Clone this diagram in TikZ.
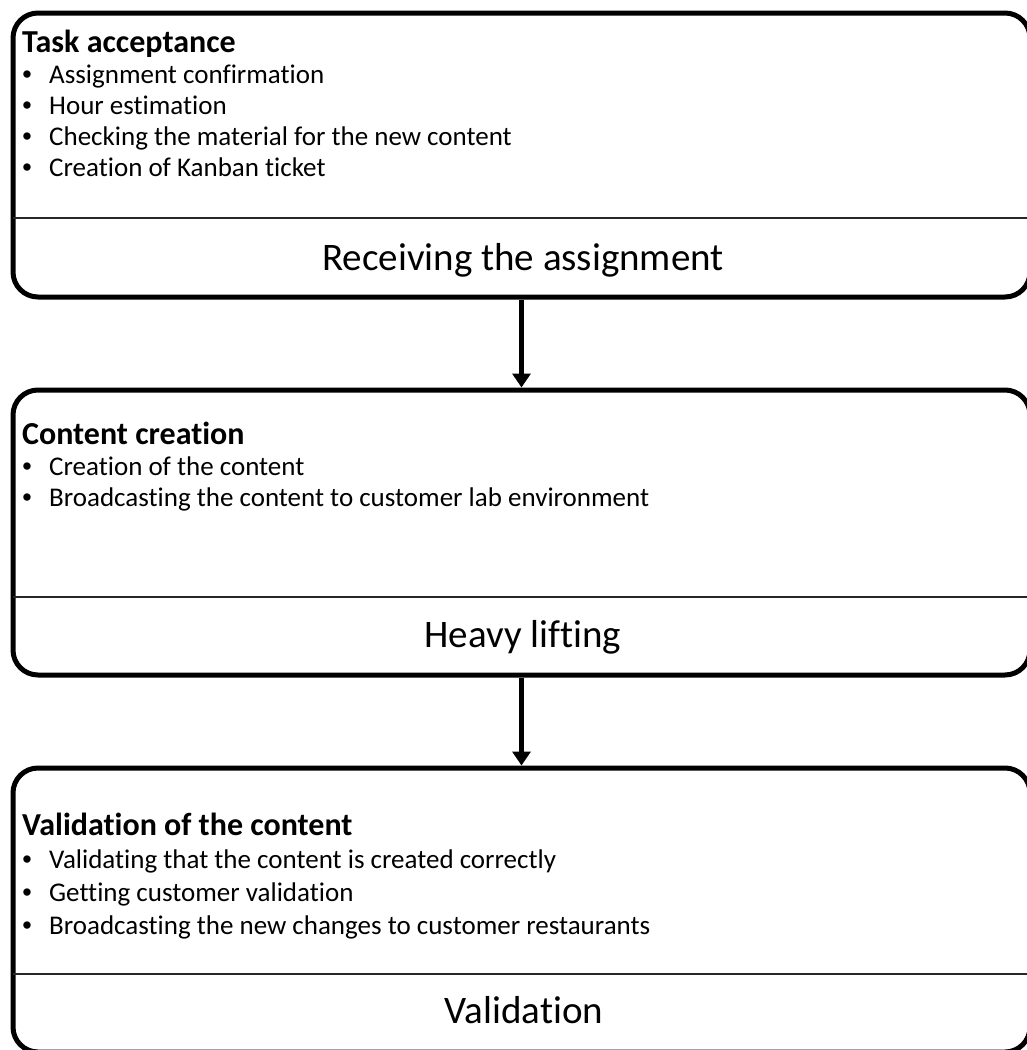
\documentclass[tikz,border=0pt]{standalone}
\usepackage{fontspec}
\setmainfont{Carlito}[Ligatures={NoCommon,NoContextual}]
\newfontfamily\bulletfont{Liberation Sans}
\usetikzlibrary{arrows.meta}

\tikzset{
  stage/.style={draw, line width=5pt, rounded corners=25pt, minimum width=1017pt, inner sep=0pt},
  divider/.style={line width=2pt, draw=black!85},
  head/.style={anchor=base west, inner sep=0pt, font=\bfseries\fontsize{32}{38}\selectfont},
  item/.style={anchor=base west, inner sep=0pt, font=\fontsize{27}{31}\selectfont},
  dot/.style={anchor=base, inner sep=0pt, font=\bulletfont\fontsize{27}{31}\selectfont},
  caption/.style={anchor=base, inner sep=0pt, font=\fontsize{39}{46}\selectfont},
  flow/.style={line width=5pt, -{Triangle[width=18pt,length=14pt]}},
}

\begin{document}
\begin{tikzpicture}[x=1pt,y=-1pt]
\useasboundingbox (0,0) rectangle (1026,1050);

% the three stages
\node[stage, minimum height=284pt] (accept) at (521.5,155) {};
\node[stage, minimum height=285pt] (create) at (521.5,532.5) {};
\node[stage, minimum height=284pt] (check) at (521.5,910) {};

\draw[divider] (13,218) -- (1030,218);
\draw[divider] (13,597) -- (1030,597);
\draw[divider] (13,974) -- (1030,974);

% task acceptance
\node[head] (accepthead) at (22,52) {Task acceptance};
\foreach \txt [count=\i] in {Assignment confirmation, Hour estimation,
    Checking the material for the new content, Creation of Kanban ticket} {
  \node[dot] (acceptdot\i) at (27,{52+31*\i}) {•};
  \node[item] (acceptitem\i) at (49,{52+31*\i}) {\txt};
}
\node[caption] (acceptcap) at (523,270) {Receiving the assignment};

% content creation
\node[head] (createhead) at (22,444) {Content creation};
\foreach \txt [count=\i] in {Creation of the content,
    Broadcasting the content to customer lab environment} {
  \node[dot] (createdot\i) at (27,{444+31*\i}) {•};
  \node[item] (createitem\i) at (49,{444+31*\i}) {\txt};
}
\node[caption] (createcap) at (523,647) {Heavy lifting};

% validation
\node[head] (checkhead) at (22,835) {Validation of the content};
\foreach \txt [count=\i] in {Validating that the content is created correctly,
    Getting customer validation,
    Broadcasting the new changes to customer restaurants} {
  \node[dot] (checkdot\i) at (27,{835+33*\i}) {•};
  \node[item] (checkitem\i) at (49,{835+33*\i}) {\txt};
}
\node[caption] (checkcap) at (524,1023) {Validation};

% arrows
\draw[flow] (accept.south) -- (create.north);
\draw[flow] (create.south) -- (check.north);
\end{tikzpicture}
\end{document}
